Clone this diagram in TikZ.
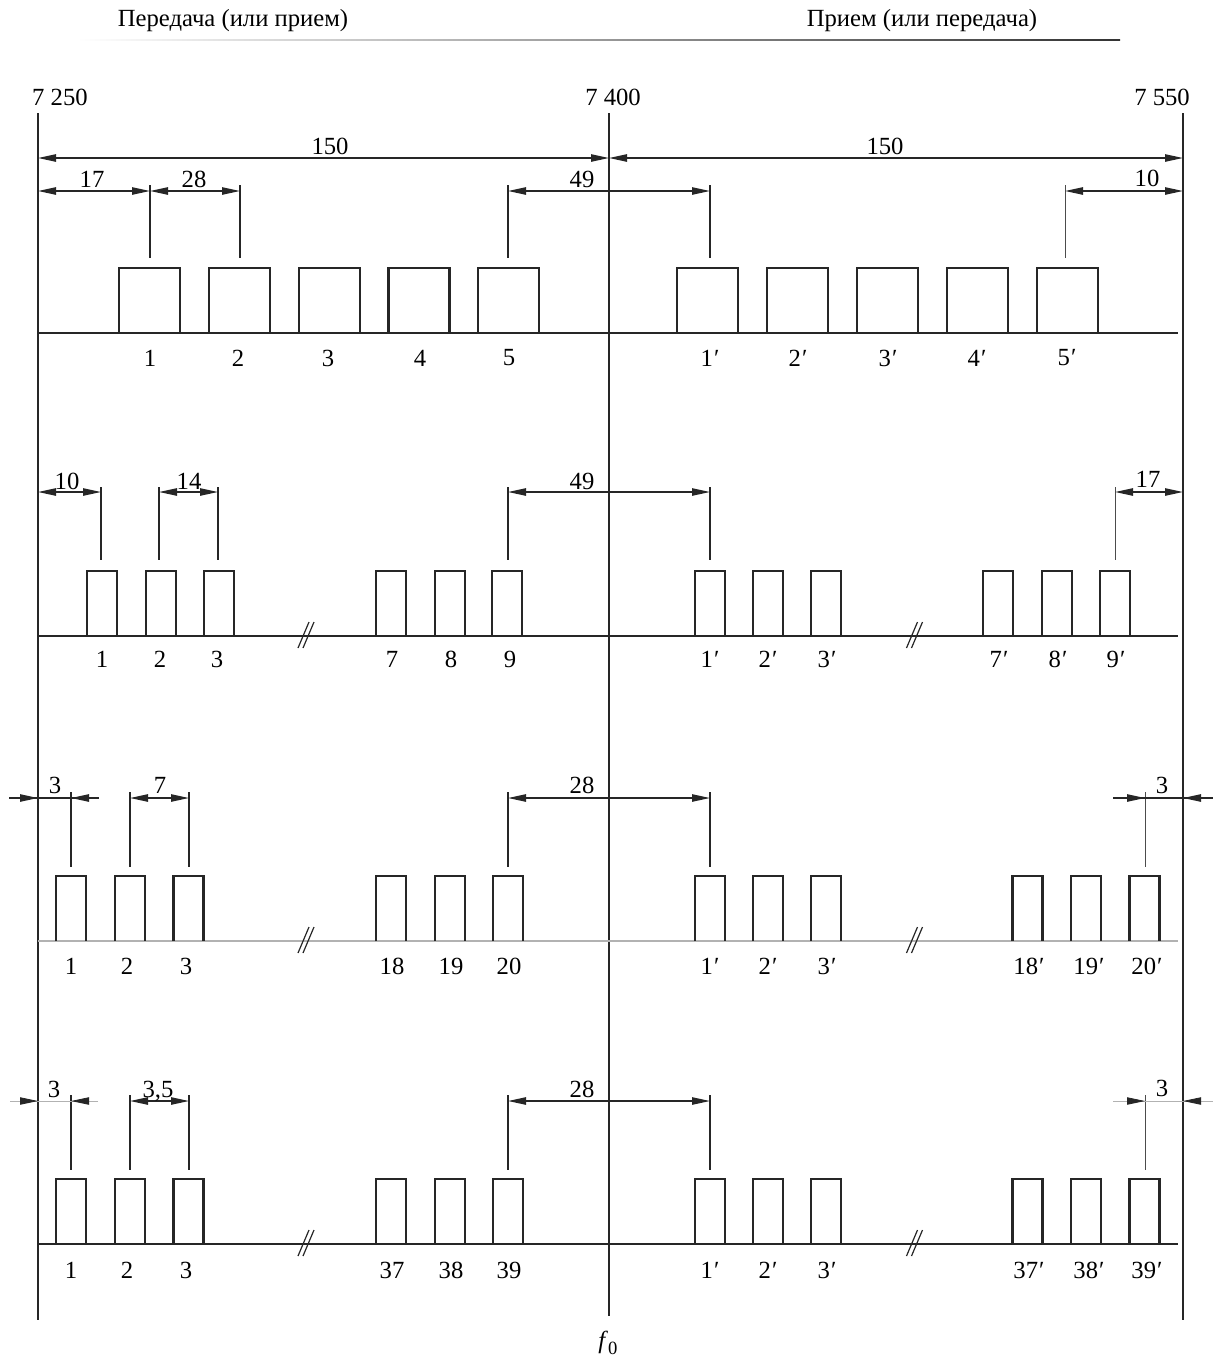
\documentclass[tikz,border=0pt]{standalone}
\usepackage{fontspec}
\setmainfont{Liberation Serif}
\usetikzlibrary{arrows.meta}
\newcommand{\pr}{\kern0.8pt′}
\tikzset{
  lbl/.style={inner sep=0pt, font=\fontsize{18.5pt}{22pt}\selectfont},
  vline/.style={line width=1.5pt, black!85},
  base/.style={line width=1.5pt, black!85},
  greybase/.style={line width=0.8pt, black!30},
  chan/.style={line width=1.6pt, black!85},
  ext/.style={line width=1.1pt, black!85},
  thinext/.style={line width=0.6pt, black!70},
  tip/.tip={Triangle[length=13.5pt,width=5.5pt]},
  dimarr/.style={line width=1.1pt, black!85, tip-tip},
  onearr/.style={line width=1.1pt, black!85, -tip},
  greyarr/.style={line width=0.6pt, black!30, -{Triangle[length=13.5pt,width=5.5pt,color=black!85]}},
  brk/.style={line width=0.9pt, black!85}
}
\begin{document}
\begin{tikzpicture}[x=0.75pt,y=-0.75pt]
\useasboundingbox (0,0) rectangle (1213,1360);

% header
\node[lbl] (hL) at (233,21) {Передача (или прием)};
\node[lbl] (hR) at (922,21) {Прием (или передача)};
\shade[left color=white, right color=black!80] (77,39.3) rectangle (1120,40.9);

% frequency labels
\node[lbl] (f250) at (60,97) {7~250};
\node[lbl] (f400) at (613,97) {7~400};
\node[lbl] (f550) at (1162,97) {7~550};

% vertical lines
\coordinate (Lt) at (38,113);   \coordinate (Lb) at (38,1320);
\coordinate (Ct) at (609,113);  \coordinate (Cb) at (609,1316);
\coordinate (Rt) at (1183,113); \coordinate (Rb) at (1183,1320);
\draw[vline] (Lt) -- (Lb);
\draw[vline] (Ct) -- (Cb);
\draw[vline] (Rt) -- (Rb);
\node[lbl] (f0) at (608,1343) {\textit{f}\raisebox{-0.55ex}{\fontsize{14pt}{14pt}\selectfont 0}};

% ---------- baselines ----------
\coordinate (b1s) at (38,333);  \coordinate (b1e) at (1178,333);
\coordinate (b2s) at (38,636);  \coordinate (b2e) at (1178,636);
\coordinate (b3s) at (38,941);  \coordinate (b3e) at (1178,941);
\coordinate (b4s) at (38,1244); \coordinate (b4e) at (1178,1244);
\draw[base] (b1s) -- (b1e);
\draw[base] (b2s) -- (b2e);
\draw[greybase] (b3s) -- (b3e);
\draw[base] (b4s) -- (b4e);

% break marks
\foreach \y in {636,941,1244}
  \foreach \x in {306,914.5}{
    \draw[brk] (\x-8,\y+12) -- (\x+3,\y-14);
    \draw[brk] (\x-3,\y+12) -- (\x+8,\y-14);
  }

% ---------- channel boxes ----------
\foreach \c in {149.3,239.3,329.4,419,508.9,707.8,797.6,887.3,977.3,1067.6}
  \draw[chan] (\c-30.5,333) -- (\c-30.5,268) -- (\c+30.5,268) -- (\c+30.5,333);
\foreach \c in {102.4,160.8,218.6,391,449.8,507.4,710,768,826,998,1057,1115}
  \draw[chan] (\c-15,636) -- (\c-15,571) -- (\c+15,571) -- (\c+15,636);
\foreach \c in {71,130,188.5,391,450,508,710,768,826,1027.5,1086,1144.5}{
  \draw[chan] (\c-15,941) -- (\c-15,876) -- (\c+15,876) -- (\c+15,941);
  \draw[chan] (\c-15,1244) -- (\c-15,1179) -- (\c+15,1179) -- (\c+15,1244);
}

% ---------- channel numbers ----------
\foreach \x/\t [count=\i] in {150/1,238/2,328/3,420/4,509/5,710/1\pr,798/2\pr,888/3\pr,977/4\pr,1067/5\pr}
  \node[lbl] (n1-\i) at (\x,358) {\t};
\foreach \x/\t [count=\i] in {102/1,160/2,217/3,392/7,451/8,510/9,710/1\pr,768/2\pr,827/3\pr,999/7\pr,1058/8\pr,1116/9\pr}
  \node[lbl] (n2-\i) at (\x,659) {\t};
\foreach \x/\t [count=\i] in {71/1,127/2,186/3,392/18,451/19,509/20,710/1\pr,768/2\pr,827/3\pr,1029/18\pr,1089/19\pr,1147/20\pr}
  \node[lbl] (n3-\i) at (\x,966) {\t};
\foreach \x/\t [count=\i] in {71/1,127/2,186/3,392/37,451/38,509/39,710/1\pr,768/2\pr,827/3\pr,1029/37\pr,1089/38\pr,1147/39\pr}
  \node[lbl] (n4-\i) at (\x,1270) {\t};

% ---------- row 1 dimensions ----------
\coordinate (d150a) at (38,158); \coordinate (d150b) at (609,158); \coordinate (d150c) at (1183,158);
\draw[dimarr] (d150a) -- (d150b);
\draw[dimarr] (d150b) -- (d150c);
\node[lbl,anchor=base] (t150a) at (330,154) {150};
\node[lbl,anchor=base] (t150b) at (885,154) {150};

\foreach \x in {150,240,508,710} \draw[ext] (\x,185) -- (\x,258);
\draw[thinext] (1065,185) -- (1065,258);
\coordinate (r1a) at (38,191);  \coordinate (r1b) at (150,191); \coordinate (r1c) at (240,191);
\coordinate (r1d) at (508,191); \coordinate (r1e) at (710,191);
\coordinate (r1f) at (1065,191); \coordinate (r1g) at (1183,191);
\draw[dimarr] (r1a) -- (r1b);
\draw[dimarr] (r1b) -- (r1c);
\draw[dimarr] (r1d) -- (r1e);
\draw[dimarr] (r1f) -- (r1g);
\node[lbl,anchor=base] (t17a) at (92,187) {17};
\node[lbl,anchor=base] (t28a) at (194,187) {28};
\node[lbl,anchor=base] (t49a) at (582,187) {49};
\node[lbl,anchor=base] (t10a) at (1147,186) {10};

% ---------- row 2 dimensions ----------
\foreach \x in {101,159,218,508,710} \draw[ext] (\x,487) -- (\x,560);
\draw[thinext] (1115,487) -- (1115,560);
\coordinate (r2a) at (38,492);  \coordinate (r2b) at (101,492);
\coordinate (r2c) at (159,492); \coordinate (r2d) at (218,492);
\coordinate (r2e) at (508,492); \coordinate (r2f) at (710,492);
\coordinate (r2g) at (1115,492); \coordinate (r2h) at (1183,492);
\draw[dimarr] (r2a) -- (r2b);
\draw[dimarr] (r2c) -- (r2d);
\draw[dimarr] (r2e) -- (r2f);
\draw[dimarr] (r2g) -- (r2h);
\node[lbl,anchor=base] (t10b) at (67,489) {10};
\node[lbl,anchor=base] (t14b) at (189,489) {14};
\node[lbl,anchor=base] (t49b) at (582,489) {49};
\node[lbl,anchor=base] (t17b) at (1148,487) {17};

% ---------- row 3 dimensions ----------
\foreach \x in {71,130,189,508,710} \draw[ext] (\x,792) -- (\x,867);
\draw[thinext] (1145,792) -- (1145,867);
\coordinate (r3o1) at (9,798);   \coordinate (r3a) at (38,798);
\coordinate (r3b) at (71,798);   \coordinate (r3o2) at (99,798);
\coordinate (r3c) at (130,798);  \coordinate (r3d) at (189,798);
\coordinate (r3e) at (508,798);  \coordinate (r3f) at (710,798);
\coordinate (r3o3) at (1113,798); \coordinate (r3g) at (1145,798);
\coordinate (r3h) at (1183,798); \coordinate (r3o4) at (1213,798);
\draw[line width=1.1pt, black!85] (r3o1) -- (r3o2);
\draw[onearr] (r3o1) -- (r3a);
\draw[onearr] (r3o2) -- (r3b);
\draw[dimarr] (r3c) -- (r3d);
\draw[dimarr] (r3e) -- (r3f);
\draw[line width=1.1pt, black!85] (r3o3) -- (r3o4);
\draw[onearr] (r3o3) -- (r3g);
\draw[onearr] (r3o4) -- (r3h);
\node[lbl,anchor=base] (t3c) at (55,793) {3};
\node[lbl,anchor=base] (t7c) at (160,793) {7};
\node[lbl,anchor=base] (t28c) at (582,793) {28};
\node[lbl,anchor=base] (t3d) at (1162,793) {3};

% ---------- row 4 dimensions ----------
\foreach \x in {71,130,189,508,710} \draw[ext] (\x,1095) -- (\x,1170);
\draw[thinext] (1145,1095) -- (1145,1170);
\coordinate (r4o1) at (10,1101);   \coordinate (r4a) at (38,1101);
\coordinate (r4b) at (71,1101);    \coordinate (r4o2) at (98,1101);
\coordinate (r4c) at (130,1101);   \coordinate (r4d) at (189,1101);
\coordinate (r4e) at (508,1101);   \coordinate (r4f) at (710,1101);
\coordinate (r4o3) at (1113,1101); \coordinate (r4g) at (1145,1101);
\coordinate (r4h) at (1183,1101);  \coordinate (r4o4) at (1213,1101);
\draw[line width=0.6pt, black!30] (r4o1) -- (r4o2);
\draw[greyarr] (r4o1) -- (r4a);
\draw[greyarr] (r4o2) -- (r4b);
\draw[dimarr] (r4c) -- (r4d);
\draw[dimarr] (r4e) -- (r4f);
\draw[line width=0.6pt, black!30] (r4o3) -- (r4o4);
\draw[greyarr] (r4o3) -- (r4g);
\draw[greyarr] (r4o4) -- (r4h);
\node[lbl,anchor=base] (t3e) at (54,1097) {3};
\node[lbl,anchor=base] (t35e) at (158,1097) {3,5};
\node[lbl,anchor=base] (t28e) at (582,1097) {28};
\node[lbl,anchor=base] (t3f) at (1162,1096) {3};
\end{tikzpicture}
\end{document}
